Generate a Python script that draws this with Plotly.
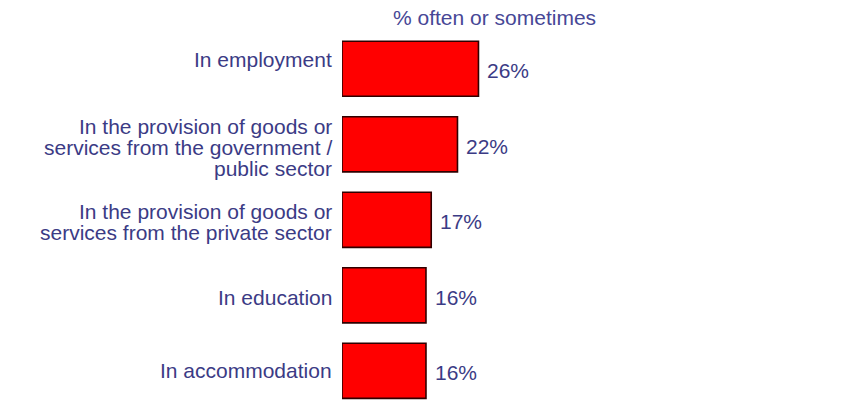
import plotly.graph_objects as go

# Survey categories (top to bottom), each split into the lines shown beside the bar
categories = [
    "In employment",
    "In the provision of goods or services from the government / public sector",
    "In the provision of goods or services from the private sector",
    "In education",
    "In accommodation",
]
category_lines = [
    ["In employment"],
    ["In the provision of goods or", "services from the government /", "public sector"],
    ["In the provision of goods or", "services from the private sector"],
    ["In education"],
    ["In accommodation"],
]
values = [26, 22, 17, 16, 16]
value_title = "% often or sometimes"

# vertical offsets (px) of each label line relative to its bar centre
line_shifts = [
    [9],
    [18, -3, -24],
    [8, -13],
    [-2],
    [0],
]

TEXT_COLOR = "#3b3b85"
FONT = "Liberation Sans, Arial, sans-serif"

positions = list(range(len(categories)))

fig = go.Figure(
    go.Bar(
        x=values,
        y=positions,
        orientation="h",
        marker=dict(color="#ff0000", line=dict(color="#300000", width=1.6)),
        width=0.73,
        hoverinfo="skip",
    )
)

annotations = []
# category labels, one annotation per text line
for pos, lines, shifts in zip(positions, category_lines, line_shifts):
    for line, dy in zip(lines, shifts):
        annotations.append(dict(
            x=0, xref="x", y=pos, yref="y",
            text=line, showarrow=False,
            xanchor="right", yanchor="middle",
            xshift=-8, yshift=dy,
            font=dict(family=FONT, size=21, color=TEXT_COLOR),
        ))

# value labels at the end of each bar
for pos, v in zip(positions, values):
    annotations.append(dict(
        x=v, xref="x", y=pos, yref="y",
        text=f"{v}%", showarrow=False,
        xanchor="left", yanchor="middle",
        xshift=7, yshift=-2,
        font=dict(family=FONT, size=21, color=TEXT_COLOR),
    ))

# column heading above the bars
annotations.append(dict(
    x=29.1, xref="x", y=-0.5, yref="y",
    text=value_title, showarrow=False,
    xanchor="center", yanchor="bottom",
    font=dict(family=FONT, size=21, color="#474796"),
))

fig.update_layout(
    width=848, height=401,
    margin=dict(l=342, r=0, t=31, b=0),
    paper_bgcolor="white", plot_bgcolor="white",
    showlegend=False,
    annotations=annotations,
    xaxis=dict(range=[0, 96.4], visible=False, fixedrange=True),
    yaxis=dict(range=[4.4, -0.5], visible=False, fixedrange=True),
)

fig.write_html("out.html", config={"displayModeBar": False})
